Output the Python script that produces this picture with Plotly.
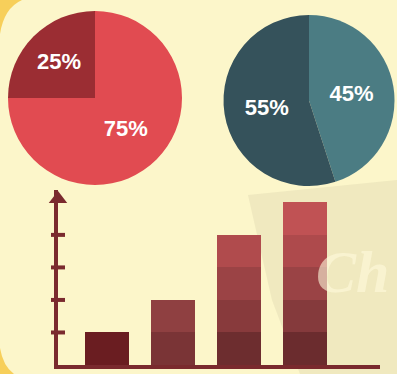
import plotly.graph_objects as go

# ---- data ----
pie1_labels = ["A", "B"]
pie1_values = [25, 75]
pie2_labels = ["A", "B"]
pie2_values = [45, 55]
bar_values = [1, 2, 4, 5]
axis_ticks = [1, 2, 3, 4]

# ---- styles ----
W, H = 397, 374
BG = "#FCF6CA"
AXIS = "#7A2A2E"
pie1_colors = ["#9B2D33", "#E14B51"]
pie2_colors = ["#4B7C83", "#35525B"]
# colour of each stacked segment: [bar][level]
seg_colors = [
    ["#6A1D21"],
    ["#7A3436", "#8F4041"],
    ["#6D2D2F", "#883A3C", "#9B4345", "#B04B4D"],
    ["#6B2C2E", "#853A3C", "#9A4345", "#AE4A4C", "#C05254"],
]

def px(x):
    return x / W

def py(y):
    return 1 - y / H

fig = go.Figure()

label_font = dict(family="Liberation Sans", size=22, color="white", weight="bold")

fig.add_trace(go.Pie(
    labels=pie1_labels, values=pie1_values, sort=False,
    direction="clockwise", rotation=270,
    marker=dict(colors=pie1_colors, line=dict(width=0)),
    textinfo="percent", textposition="inside", insidetextorientation="horizontal",
    textfont=label_font, showlegend=False, hoverinfo="skip",
    domain=dict(x=[px(8), px(182)], y=[py(185), py(11)]),
))
fig.add_trace(go.Pie(
    labels=pie2_labels, values=pie2_values, sort=False,
    direction="clockwise", rotation=0,
    marker=dict(colors=pie2_colors, line=dict(width=0)),
    textinfo="percent", textposition="inside", insidetextorientation="horizontal",
    textfont=label_font, showlegend=False, hoverinfo="skip",
    domain=dict(x=[px(223), px(395)], y=[py(186), py(15)]),
))

# stacked segments built from bar_values
n_levels = max(bar_values)
xs = list(range(len(bar_values)))
for lvl in range(n_levels):
    ys = [1 if v > lvl else 0 for v in bar_values]
    cols = [seg_colors[i][lvl] if bar_values[i] > lvl else BG for i in xs]
    fig.add_trace(go.Bar(
        x=xs, y=ys, width=0.667, marker=dict(color=cols, line=dict(width=0)),
        showlegend=False, hoverinfo="skip",
    ))

x_range = [-0.742, 4.136]
y_range = [0, 5.38]

# axis tick marks and arrow head
fig.add_trace(go.Scatter(
    x=[x_range[0]] * len(axis_ticks), y=axis_ticks, mode="markers",
    marker=dict(symbol="line-ew", size=10, color=AXIS, line=dict(width=4, color=AXIS)),
    cliponaxis=False, showlegend=False, hoverinfo="skip",
))
fig.add_trace(go.Scatter(
    x=[x_range[0]], y=[5.1], mode="markers",
    marker=dict(symbol="triangle-up", size=16, color=AXIS, line=dict(width=0)),
    cliponaxis=False, showlegend=False, hoverinfo="skip",
))

shapes = [
    # watermark backdrop
    dict(type="path", xref="paper", yref="paper", layer="below",
         path=f"M {px(248)},{py(195)} L {px(397)},{py(180)} L {px(397)},{py(374)} "
              f"L {px(300)},{py(374)} L {px(272)},{py(300)} Z",
         fillcolor="rgba(205,195,160,0.25)", line=dict(width=0)),
    # golden glow corners
    dict(type="path", xref="paper", yref="paper", layer="below",
         path=f"M {px(0)},{py(34)} Q {px(4)},{py(8)} {px(22)},{py(0)} L {px(0)},{py(0)} Z",
         fillcolor="rgba(246,200,70,0.85)", line=dict(width=0)),
    dict(type="path", xref="paper", yref="paper", layer="below",
         path=f"M {px(0)},{py(348)} Q {px(3)},{py(366)} {px(14)},{py(374)} L {px(0)},{py(374)} Z",
         fillcolor="rgba(246,200,70,0.85)", line=dict(width=0)),
]

fig.update_layout(
    width=W, height=H, margin=dict(l=0, r=0, t=0, b=0),
    paper_bgcolor=BG, plot_bgcolor="rgba(0,0,0,0)",
    barmode="stack", bargap=0,
    xaxis=dict(domain=[px(58), px(380)], range=x_range, showgrid=False,
               zeroline=False, showticklabels=False, ticks="",
               showline=True, linecolor=AXIS, linewidth=4),
    yaxis=dict(domain=[py(365), py(190)], range=y_range, showgrid=False,
               zeroline=False, showticklabels=False, ticks="",
               showline=True, linecolor=AXIS, linewidth=4),
    shapes=shapes,
    annotations=[dict(
        text="Ch", xref="paper", yref="paper", x=px(314), y=py(272),
        xanchor="left", yanchor="middle", showarrow=False,
        font=dict(family="Liberation Serif", size=60, weight="bold",
                  style="italic", color="rgba(255,250,220,0.6)"),
    )],
)

fig.write_html("out.html")
